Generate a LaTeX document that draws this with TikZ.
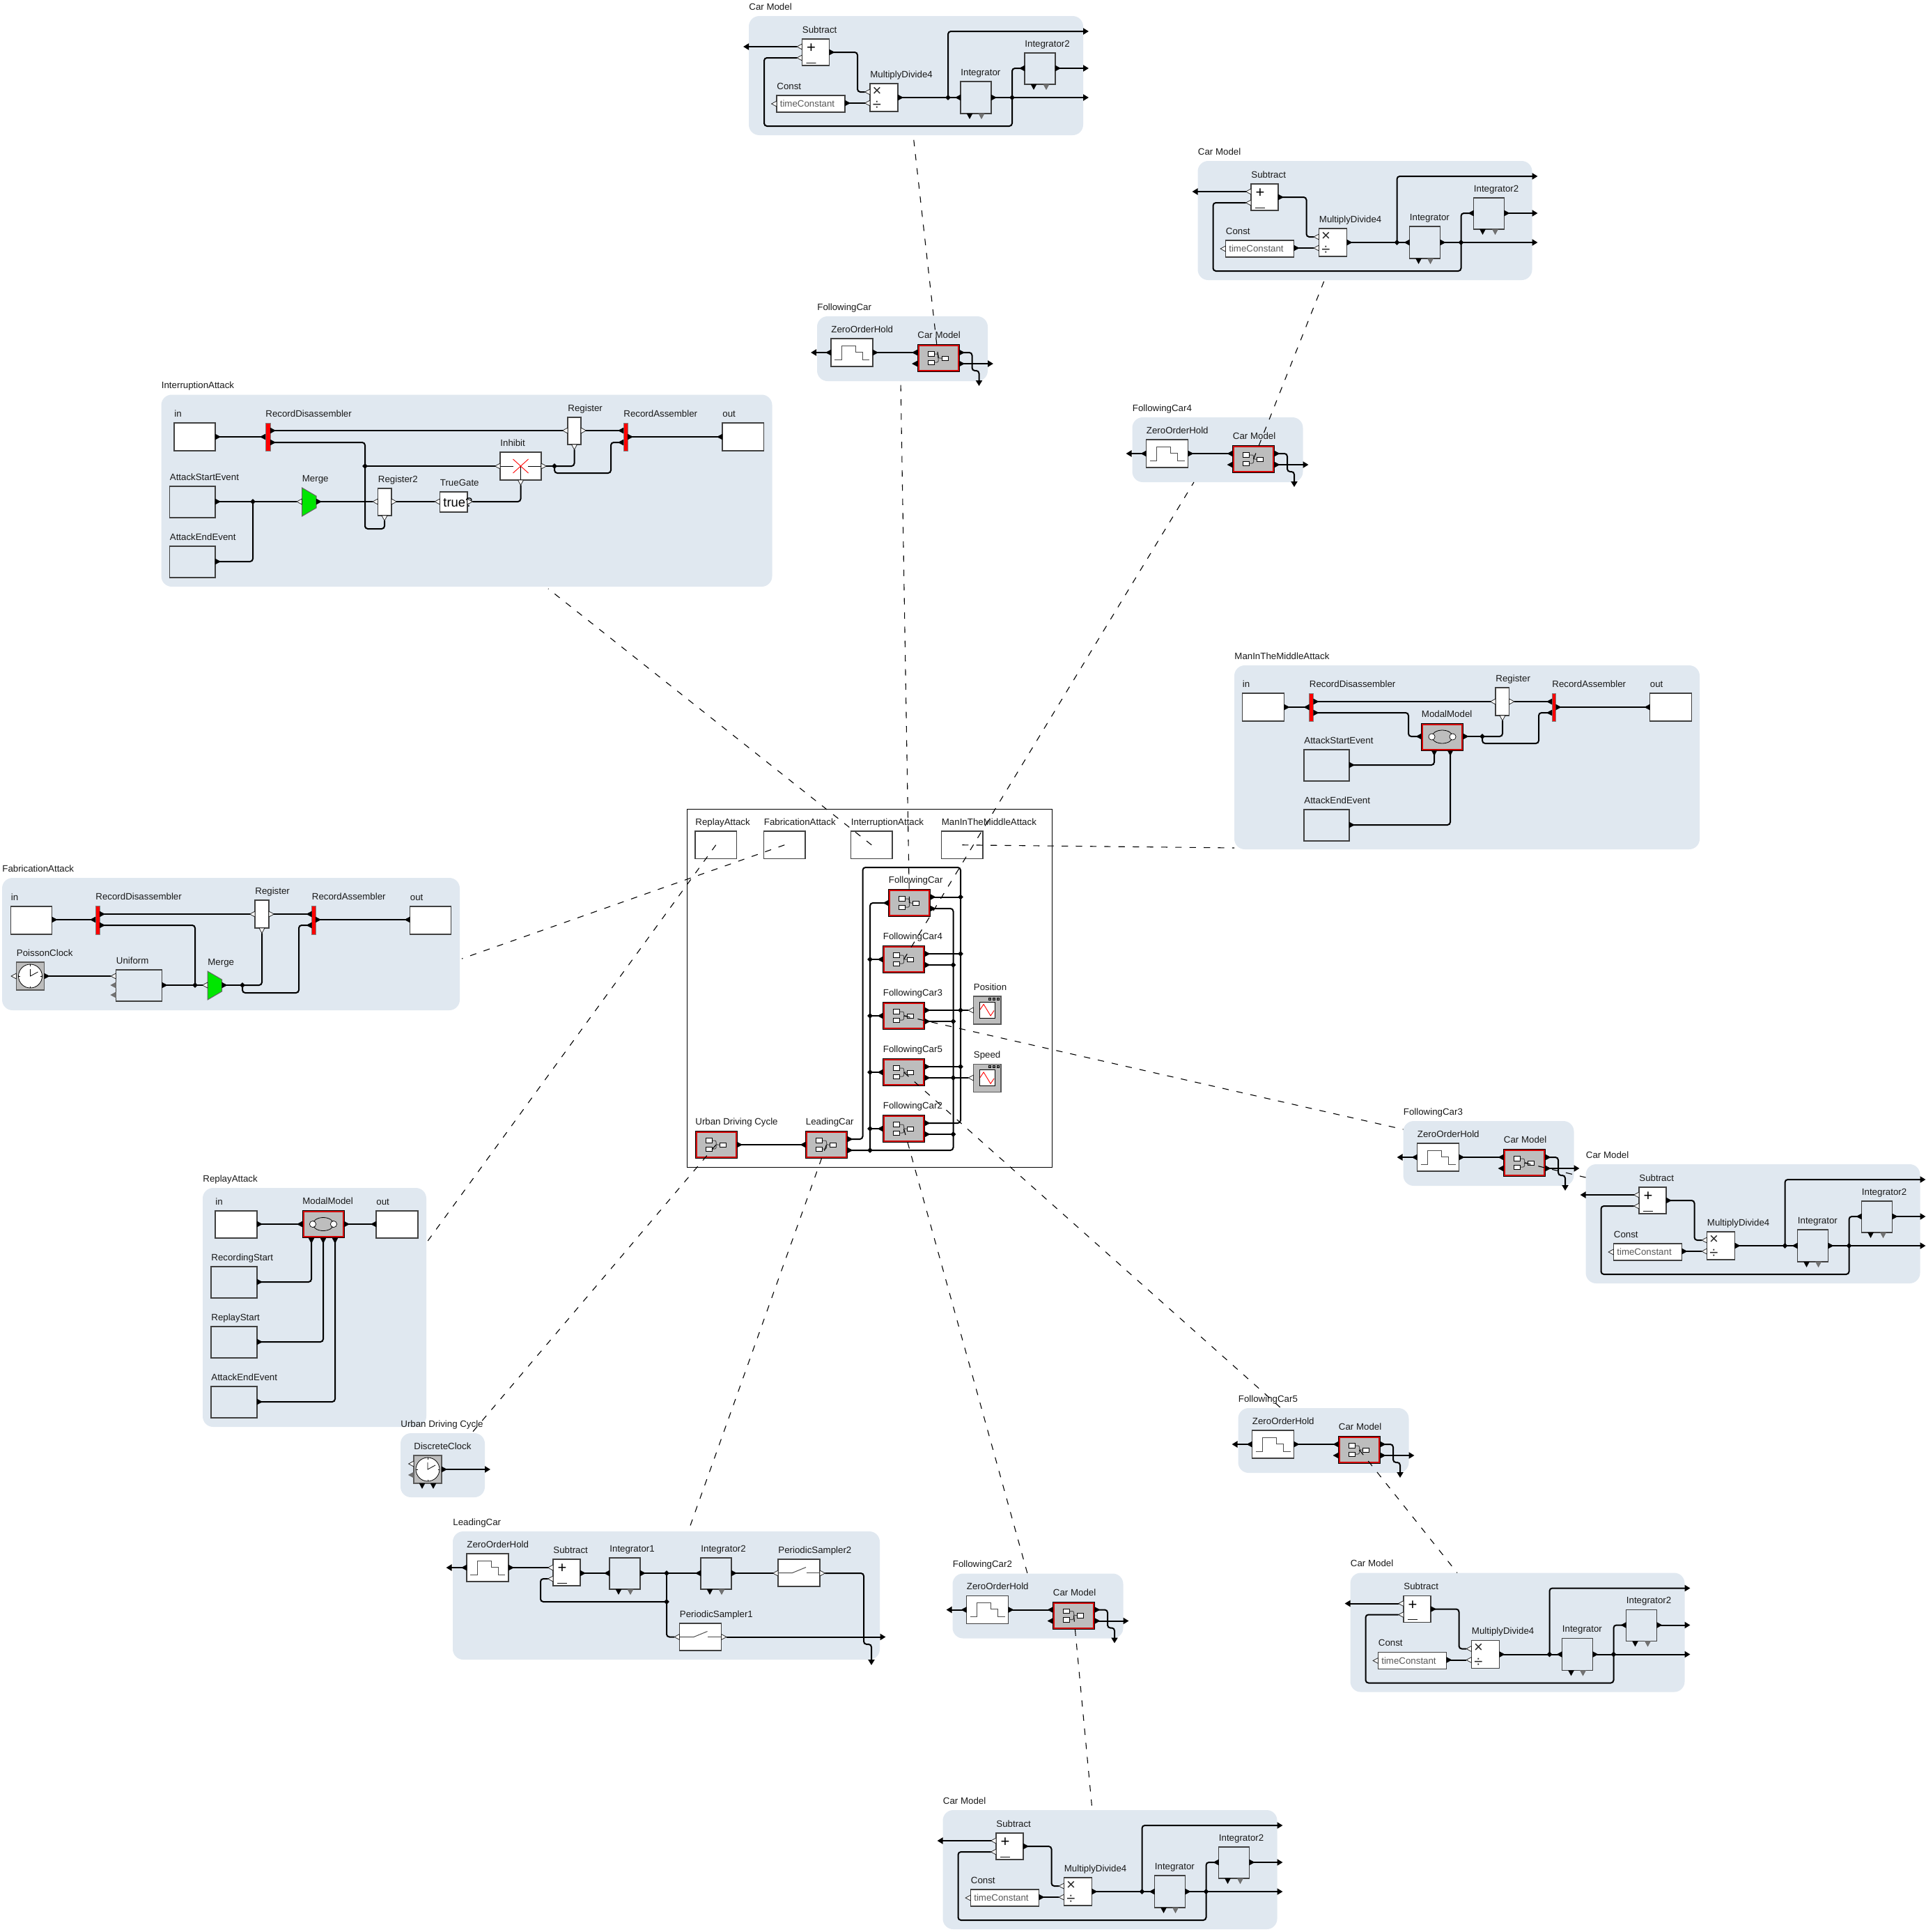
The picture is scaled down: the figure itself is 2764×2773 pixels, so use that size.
\documentclass[tikz,border=0pt]{standalone}
\usepackage{fontspec}
\setmainfont{Liberation Sans}
\usetikzlibrary{arrows.meta,shapes.geometric}
\definecolor{panefill}{RGB}{224,232,240}
\definecolor{compfill}{RGB}{189,189,189}
\definecolor{compred}{RGB}{214,0,0}
\definecolor{mergegreen}{RGB}{0,230,0}
\tikzset{
	lbl/.style={font=\fontsize{6.65}{8}\selectfont, inner sep=0pt, text=black!90},
	pane/.style={fill=panefill, rounded corners=7.5pt},
	bwhite/.style={draw=black!75, fill=white, line width=0.55pt},
	bplain/.style={draw=black!75, line width=0.55pt},
	bgray/.style={draw=black!65, fill=compfill, line width=0.55pt},
	bcomp/.style={draw=black, fill=compfill, line width=0.5pt},
	bbar/.style={draw=black!50, fill=red, line width=0.5pt},
	wire/.style={line width=1pt, rounded corners=2pt},
	tipped/.style={-{Triangle[length=4pt,width=4.5pt]}},
	thinline/.style={line width=0.45pt},
	glyph/.style={draw=black!70, line width=0.5pt},
	pblack/.style={draw=black, fill=black, line width=0.2pt, /utils/exec={\def\preach{1.8pt}}},
	popen/.style={draw=black!85, fill=white, line width=0.4pt, /utils/exec={\def\preach{3.7pt}}},
	pgray/.style={draw=black!60, fill=black!55, line width=0.3pt, /utils/exec={\def\preach{3.7pt}}},
	junc/.style={diamond, fill=black, inner sep=0pt, minimum size=4.1pt},
	link/.style={line width=0.55pt, dash pattern=on 4.6pt off 5.6pt},
}
% block with its caption
\def\blk[#1](#2)(#3)(#4,#5)#6{
	\node[#1, anchor=north west, inner sep=0pt, outer sep=0pt, minimum width=#4*0.5pt, minimum height=#5*0.5pt] (#2) at (#3) {};
	\node[lbl, anchor=base west, yshift=4.3pt] (#2-t) at (#2.north west) {#6};
}
\def\port[#1](#2)(#3)#4{\draw[#1, shift={(#3)}, rotate=#4] (0,-2pt) -- (3.7pt,0) -- (0,2pt) -- cycle (\preach,0) coordinate (#2);}
\def\compo(#1)(#2)#3{
	\blk[bcomp](#1)(#2)(60,39){#3}
	\begin{scope}[shift={(#2)}]
		\draw[compred, line width=1pt] (1.5,1.5) rectangle (58.5,37.5);
		\draw[draw=black!70, line width=0.5pt, rounded corners=1pt] (24,13.5) -| (30,19.5) -- (35,19.5);
		\draw[draw=black!70, line width=0.5pt, rounded corners=1pt] (24,25.5) -| (30,19.5);
		\draw[draw=black, fill=white, line width=0.45pt] (15,10) rectangle (24,16.5);
		\draw[draw=black, fill=white, line width=0.45pt] (15,22.5) rectangle (24,29);
		\draw[draw=black, fill=white, line width=0.45pt] (35,16.5) rectangle (44,23);
	\end{scope}
}
\def\modal(#1)(#2)#3{
	\blk[bcomp](#1)(#2)(60,39){#3}
	\begin{scope}[shift={(#2)}]
		\draw[compred, line width=1pt] (1.5,1.5) rectangle (58.5,37.5);
		\draw[black, line width=0.4pt] (30,19.5) ellipse (15 and 9.5);
		\draw[black, fill=white, line width=0.35pt] (15,19.5) circle (4.6);
		\draw[black, fill=white, line width=0.35pt] (45,19.5) circle (4.6);
	\end{scope}
}
\def\clock(#1)(#2)#3{
	\blk[bgray](#1)(#2)(40,40){#3}
	\begin{scope}[shift={(#2)}]
		\draw[black, fill=white, line width=0.4pt] (20,20) circle (17);
		\draw[black, line width=0.4pt] (20,10) -- (20,20) -- (31,14);
		\draw[black, line width=0.4pt] (20,3) -- (20,5.5);
		\draw[black, line width=0.4pt] (20,34.5) -- (20,37);
		\draw[black, line width=0.4pt] (3,20) -- (5.5,20);
		\draw[black, line width=0.4pt] (34.5,20) -- (37,20);
	\end{scope}
}
\def\plotter(#1)(#2)#3{
	\blk[bgray](#1)(#2)(39.5,40){#3}
	\begin{scope}[shift={(#2)}]
		\draw[black, fill=white, line width=0.5pt] (8.5,8) rectangle (31,31);
		\draw[red, line width=0.45pt] (9.6,19) -- (14.6,11.4) -- (24.6,27.9) -- (29.6,20.4);
		\draw[black, fill=black!50, line width=0.35pt] (22,2) rectangle (25,5);
		\draw[black, fill=black!50, line width=0.35pt] (28,2) rectangle (31,5);
		\draw[black, fill=black!50, line width=0.35pt] (34,2) rectangle (37,5);
	\end{scope}
}
\def\hold(#1)(#2)#3{
	\blk[bwhite](#1)(#2)(60,40){#3}
	\begin{scope}[shift={(#2)}]
		\draw[glyph] (5,30) -- (15,30) -- (15,10) -- (35,10) -- (35,19) -- (45,19) -- (45,30) -- (55,30);
	\end{scope}
}
\def\sampler(#1)(#2)#3{
	\blk[bwhite](#1)(#2)(60,39){#3}
	\begin{scope}[shift={(#2)}]
		\draw[glyph] (0,19.5) -- (20.5,19.5) -- (40,11.5);
		\draw[glyph] (40.5,19.5) -- (60,19.5);
	\end{scope}
}
\def\subtr(#1)(#2)#3{
	\blk[bwhite](#1)(#2)(39,38){#3}
	\begin{scope}[shift={(#2)}]
		\node[font=\fontsize{11}{12}\selectfont, inner sep=0pt] (#1-plus) at (13,13.5) {+};
		\node[font=\fontsize{7}{8}\selectfont, inner sep=0pt] (#1-minus) at (13,36) {—};
	\end{scope}
}
\def\merger(#1)(#2)#3{
	\begin{scope}[shift={(#2)}]
		\draw[draw=black!60, fill=mergegreen, line width=0.5pt] (0,0) -- (20.5,12) -- (20.5,29) -- (0,41) -- cycle;
		\coordinate (#1) at (0,0);
	\end{scope}
	\node[lbl, anchor=base west, yshift=4.3pt] (#1-t) at (#1) {#3};
}
% one Car Model panel, top left corner at #2
\def\carmodel#1#2{
	\begin{scope}[shift={(#2)}]
		\blk[pane](#1)(0,0)(480,171){Car Model}
		\subtr(#1sub)(76.5,33){Subtract}
		\blk[bwhite](#1con)(40,114)(98,24){Const}
		\node[lbl, text=black!65] (#1con-v) at (84,126) {timeConstant};
		\blk[bwhite](#1mul)(174,97)(40,40){MultiplyDivide4}
		\node[font=\fontsize{11}{12}\selectfont, inner sep=0pt, text=black!85] (#1mul-x) at (184,108) {×};
		\node[font=\fontsize{11}{12}\selectfont, inner sep=0pt, text=black!85] (#1mul-d) at (184,128.5) {÷};
		\blk[bplain](#1int)(304,94)(44,46){Integrator}
		\blk[bplain](#1itw)(396,53)(44,45){Integrator2}
		\port[popen](#1sub-i1)(76.5,44){180}
		\port[popen](#1sub-i2)(76.5,60){180}
		\port[pblack](#1sub-o)(115.5,52){0}
		\port[popen](#1con-i)(40,126){180}
		\port[pblack](#1con-o)(138,125){0}
		\port[popen](#1mul-i1)(174,109){180}
		\port[popen](#1mul-i2)(174,125){180}
		\port[pblack](#1mul-o)(214,117){0}
		\port[pblack](#1int-i)(304,117){180}
		\port[pblack](#1int-o)(348,117){0}
		\port[pblack](#1int-a)(317,140){-90}
		\port[pgray](#1int-b)(334,140){-90}
		\port[pblack](#1itw-i)(396,75){180}
		\port[pblack](#1itw-o)(440,75){0}
		\port[pblack](#1itw-a)(409,98){-90}
		\port[pgray](#1itw-b)(427,98){-90}
		\node[junc] (#1j1) at (286,117) {};
		\node[junc] (#1j2) at (378,117) {};
		\coordinate (#1e0) at (-8,44);
		\coordinate (#1e1) at (488,22);
		\coordinate (#1e2) at (488,75);
		\coordinate (#1e3) at (488,117);
		\coordinate (#1b1) at (156,109);
		\coordinate (#1b2) at (22,158);
		\draw[wire, tipped] (#1sub-i1) -- (#1e0);
		\draw[wire] (#1sub-o) -| (#1b1) -- (#1mul-i1);
		\draw[wire] (#1con-o) -- (#1mul-i2);
		\draw[wire] (#1mul-o) -- (#1j1.center);
		\draw[wire] (#1j1.center) -- (#1int-i);
		\draw[wire, tipped] (#1j1.center) |- (#1e1);
		\draw[wire] (#1int-o) -- (#1j2.center);
		\draw[wire, tipped] (#1j2.center) -- (#1e3);
		\draw[wire] (#1j2.center) |- (#1itw-i);
		\draw[wire, tipped] (#1itw-o) -- (#1e2);
		\draw[wire] (#1j2.center) |- (#1b2) |- (#1sub-i2);
	\end{scope}
}
% one following car panel
\def\followpane#1#2#3{
	\begin{scope}[shift={(#2)}]
		\blk[pane](#1)(0,0)(245,93){#3}
		\hold(#1zoh)(20,32){ZeroOrderHold}
		\compo(#1comp)(144,40.5){Car Model}
		\port[pblack](#1zoh-i)(20,52){180}
		\port[pblack](#1zoh-o)(80,52){0}
		\port[pblack](#1comp-i1)(144,52){180}
		\port[pblack](#1comp-i2)(144,68){180}
		\port[pblack](#1comp-o1)(204,52){0}
		\port[pblack](#1comp-o2)(204,68){0}
		\coordinate (#1e0) at (-9,52);
		\coordinate (#1e1) at (253,68);
		\coordinate (#1e2) at (232.5,100);
		\coordinate (#1b1) at (222.5,78);
		\draw[wire, tipped] (#1zoh-i) -- (#1e0);
		\draw[wire] (#1zoh-o) -- (#1comp-i1);
		\draw[wire, tipped] (#1comp-o2) -- (#1e1);
		\draw[wire, tipped] (#1comp-o1) -| (#1b1) -| (#1e2);
	\end{scope}
}
\begin{document}
\begin{tikzpicture}[x=0.5pt, y=-0.5pt]
	\useasboundingbox (0,0) rectangle (2764,2773);
	%%%%% PANELS %%%%%
	\carmodel{cara}{1075,23}
	\carmodel{carb}{1719.5,231}
	\carmodel{carc}{2276.5,1671}
	\carmodel{card}{1938.5,2257.5}
	\carmodel{care}{1353.5,2598}
	\followpane{fola}{1173,454}{FollowingCar}
	\followpane{folb}{1625.5,599}{FollowingCar4}
	\followpane{folc}{2014.5,1609}{FollowingCar3}
	\followpane{fold}{1777.5,2021}{FollowingCar5}
	\followpane{fole}{1367.5,2258.5}{FollowingCar2}

	%%%%% INTERRUPTION %%%%%
	\blk[pane](int)(231.5,566.5)(877,275.5){InterruptionAttack}
	\blk[bwhite](int-in)(250,607)(59,40){in}
	\blk[bbar](int-rd)(381,607)(7,40){RecordDisassembler}
	\blk[bwhite](int-reg)(815,599)(19,39){Register}
	\blk[bbar](int-ra)(895,607)(6,40){RecordAssembler}
	\blk[bwhite](int-out)(1037,607)(59.5,40){out}
	\blk[bwhite](int-inh)(718,649)(59,40){Inhibit}
	\blk[bplain](int-start)(243.5,698)(65.5,45){AttackStartEvent}
	\blk[bplain](int-end)(243.5,784)(65.5,45){AttackEndEvent}
	\merger(int-mg)(433.5,700){Merge}
	\blk[bwhite](int-reb)(542.5,701)(19.5,39){Register2}
	\blk[bwhite](int-tg)(631.5,706)(39.5,29){TrueGate}
	\node[font=\fontsize{9.2}{10}\selectfont, inner sep=0pt, anchor=west] (int-tgv) at (636,721) {true?};
	\draw[thinline] (718,669) -- (737,669) (758,669) -- (777,669) (747.5,669) -- (747.5,689);
	\draw[red, thinline] (736.5,659) -- (758.5,679) (736.5,679) -- (758.5,659);
	\port[pblack](int-in-o)(309,627){0}
	\port[pblack](int-rd-i)(381,627){180}
	\port[pblack](int-rd-a)(388,618){0}
	\port[pblack](int-rd-b)(388,635){0}
	\port[popen](int-reg-i)(815,618){180}
	\port[popen](int-reg-o)(834,618){0}
	\port[popen](int-reg-c)(824.5,638){-90}
	\port[pblack](int-ra-a)(895,618){180}
	\port[pblack](int-ra-b)(895,635){180}
	\port[pblack](int-ra-o)(901,627){0}
	\port[pblack](int-out-i)(1037,627){180}
	\port[popen](int-inh-i)(718,669){180}
	\port[popen](int-inh-o)(777,669){0}
	\port[popen](int-inh-c)(747.5,689){-90}
	\port[pblack](int-start-o)(309,720){0}
	\port[pblack](int-end-o)(309,806){0}
	\port[popen](int-mg-i)(433.5,720){180}
	\port[pblack](int-mg-o)(454,720){0}
	\port[popen](int-reb-i)(542.5,720){180}
	\port[popen](int-reb-o)(562,720){0}
	\port[popen](int-reb-c)(552,740){-90}
	\port[popen](int-tg-i)(631.5,720){180}
	\port[popen](int-tg-o)(671,720){0}
	\node[junc] (int-j1) at (524,669) {};
	\node[junc] (int-j2) at (796,669) {};
	\node[junc] (int-j3) at (363,720) {};
	\coordinate (int-b1) at (877,679);
	\coordinate (int-b2) at (524,759);
	\draw[wire] (int-in-o) -- (int-rd-i);
	\draw[wire] (int-rd-a) -- (int-reg-i);
	\draw[wire] (int-reg-o) -- (int-ra-a);
	\draw[wire] (int-ra-o) -- (int-out-i);
	\draw[wire] (int-rd-b) -| (int-j1.center);
	\draw[wire] (int-j1.center) -- (int-inh-i);
	\draw[wire] (int-j1.center) |- (int-b2) -| (int-reb-c);
	\draw[wire] (int-inh-o) -- (int-j2.center);
	\draw[wire] (int-j2.center) -| (int-reg-c);
	\draw[wire] (int-j2.center) |- (int-b1) |- (int-ra-b);
	\draw[wire] (int-start-o) -- (int-j3.center);
	\draw[wire] (int-end-o) -| (int-j3.center);
	\draw[wire] (int-j3.center) -- (int-mg-i);
	\draw[wire] (int-mg-o) -- (int-reb-i);
	\draw[wire] (int-reb-o) -- (int-tg-i);
	\draw[wire] (int-tg-o) -| (int-inh-c);

	%%%%% MAN IN THE MIDDLE %%%%%
	\blk[pane](mit)(1772,955)(668,264){ManInTheMiddleAttack}
	\blk[bwhite](mit-in)(1783.5,995)(60,40){in}
	\blk[bbar](mit-rd)(1879.5,995)(6,40){RecordDisassembler}
	\blk[bwhite](mit-reg)(2147,987)(19.5,40){Register}
	\blk[bbar](mit-ra)(2228,995)(5.5,40){RecordAssembler}
	\blk[bwhite](mit-out)(2368.5,995)(60,40){out}
	\modal(mit-mm)(2040.5,1038){ModalModel}
	\blk[bplain](mit-start)(1872,1076)(65,45){AttackStartEvent}
	\blk[bplain](mit-end)(1872,1162)(65,45){AttackEndEvent}
	\port[pblack](mit-in-o)(1843.5,1015){0}
	\port[pblack](mit-rd-i)(1879.5,1015){180}
	\port[pblack](mit-rd-a)(1885.5,1007){0}
	\port[pblack](mit-rd-b)(1885.5,1023){0}
	\port[popen](mit-reg-i)(2147,1007){180}
	\port[popen](mit-reg-o)(2166.5,1007){0}
	\port[popen](mit-reg-c)(2157,1027){-90}
	\port[pblack](mit-ra-a)(2228,1007){180}
	\port[pblack](mit-ra-b)(2228,1023){180}
	\port[pblack](mit-ra-o)(2233.5,1015){0}
	\port[pblack](mit-out-i)(2368.5,1015){180}
	\port[pblack](mit-mm-i)(2040.5,1057){180}
	\port[pblack](mit-mm-o)(2100.5,1057){0}
	\port[pblack](mit-mm-a)(2059,1077){-90}
	\port[pblack](mit-mm-b)(2082,1077){-90}
	\port[pblack](mit-start-o)(1937,1098){0}
	\port[pblack](mit-end-o)(1937,1184){0}
	\node[junc] (mit-j1) at (2128,1057) {};
	\coordinate (mit-b1) at (2022,1023);
	\coordinate (mit-b2) at (2209,1067);
	\draw[wire] (mit-in-o) -- (mit-rd-i);
	\draw[wire] (mit-rd-a) -- (mit-reg-i);
	\draw[wire] (mit-reg-o) -- (mit-ra-a);
	\draw[wire] (mit-ra-o) -- (mit-out-i);
	\draw[wire] (mit-rd-b) -- (mit-b1) |- (mit-mm-i);
	\draw[wire] (mit-mm-o) -- (mit-j1.center);
	\draw[wire] (mit-j1.center) -| (mit-reg-c);
	\draw[wire] (mit-j1.center) |- (mit-b2) |- (mit-ra-b);
	\draw[wire] (mit-start-o) -| (mit-mm-a);
	\draw[wire] (mit-end-o) -| (mit-mm-b);

	%%%%% FABRICATION %%%%%
	\blk[pane](fab)(3,1260)(657,190){FabricationAttack}
	\blk[bwhite](fab-in)(15.5,1301)(59,40){in}
	\blk[bbar](fab-rd)(137,1300)(6,41){RecordDisassembler}
	\blk[bwhite](fab-reg)(366,1292)(20,40){Register}
	\blk[bbar](fab-ra)(447.5,1300)(5.5,41){RecordAssembler}
	\blk[bwhite](fab-out)(588.5,1301)(59,40){out}
	\clock(fab-clk)(23.5,1381){PoissonClock}
	\blk[bplain](fab-uni)(166.5,1392)(66,45){Uniform}
	\merger(fab-mg)(298,1394){Merge}
	\port[pblack](fab-in-o)(74.5,1320){0}
	\port[pblack](fab-rd-i)(137,1320){180}
	\port[pblack](fab-rd-a)(143,1312){0}
	\port[pblack](fab-rd-b)(143,1328){0}
	\port[popen](fab-reg-i)(366,1312){180}
	\port[popen](fab-reg-o)(386,1312){0}
	\port[popen](fab-reg-c)(376,1332){-90}
	\port[pblack](fab-ra-a)(447.5,1312){180}
	\port[pblack](fab-ra-b)(447.5,1328){180}
	\port[pblack](fab-ra-o)(453,1320){0}
	\port[pblack](fab-out-i)(588.5,1320){180}
	\port[popen](fab-clk-i)(23.5,1401){180}
	\port[pblack](fab-clk-o)(63.5,1401){0}
	\port[popen](fab-uni-i)(166.5,1401){180}
	\port[pgray](fab-uni-a)(166.5,1414){180}
	\port[pgray](fab-uni-b)(166.5,1428){180}
	\port[pblack](fab-uni-o)(232.5,1414){0}
	\port[popen](fab-mg-i)(298,1414){180}
	\port[pblack](fab-mg-o)(318.5,1414){0}
	\node[junc] (fab-j1) at (280,1414) {};
	\node[junc] (fab-j2) at (348,1414) {};
	\coordinate (fab-b1) at (429,1425);
	\draw[wire] (fab-in-o) -- (fab-rd-i);
	\draw[wire] (fab-rd-a) -- (fab-reg-i);
	\draw[wire] (fab-reg-o) -- (fab-ra-a);
	\draw[wire] (fab-ra-o) -- (fab-out-i);
	\draw[wire] (fab-rd-b) -| (fab-j1.center);
	\draw[wire] (fab-clk-o) -- (fab-uni-i);
	\draw[wire] (fab-uni-o) -- (fab-j1.center);
	\draw[wire] (fab-j1.center) -- (fab-mg-i);
	\draw[wire] (fab-mg-o) -- (fab-j2.center);
	\draw[wire] (fab-j2.center) -| (fab-reg-c);
	\draw[wire] (fab-j2.center) |- (fab-b1) |- (fab-ra-b);

	%%%%% REPLAY %%%%%
	\blk[pane](rep)(291,1705)(321,343){ReplayAttack}
	\blk[bwhite](rep-in)(309,1738)(60,39){in}
	\modal(rep-mm)(434,1737.5){ModalModel}
	\blk[bwhite](rep-out)(540,1738)(60,39){out}
	\blk[bplain](rep-rec)(303,1818)(66,45){RecordingStart}
	\blk[bplain](rep-rst)(303,1904)(66,45){ReplayStart}
	\blk[bplain](rep-end)(303,1990)(66,45){AttackEndEvent}
	\port[pblack](rep-in-o)(369,1757){0}
	\port[pblack](rep-mm-i)(434,1757){180}
	\port[pblack](rep-mm-o)(494,1757){0}
	\port[pblack](rep-out-i)(540,1757){180}
	\port[pblack](rep-mm-a)(447,1777){-90}
	\port[pblack](rep-mm-b)(464,1777){-90}
	\port[pblack](rep-mm-c)(481,1777){-90}
	\port[pblack](rep-rec-o)(369,1840){0}
	\port[pblack](rep-rst-o)(369,1926){0}
	\port[pblack](rep-end-o)(369,2012){0}
	\draw[wire] (rep-in-o) -- (rep-mm-i);
	\draw[wire] (rep-mm-o) -- (rep-out-i);
	\draw[wire] (rep-rec-o) -| (rep-mm-a);
	\draw[wire] (rep-rst-o) -| (rep-mm-b);
	\draw[wire] (rep-end-o) -| (rep-mm-c);

	%%%%% URBAN DRIVING CYCLE %%%%%
	\blk[pane](urb)(575,2057)(121,92){Urban Driving Cycle}
	\clock(urb-clk)(594,2089){DiscreteClock}
	\port[popen](urb-clk-i)(594,2101){180}
	\port[pgray](urb-clk-j)(594,2117){180}
	\port[pblack](urb-clk-o)(634,2109){0}
	\port[pblack](urb-clk-a)(606,2129){-90}
	\port[pblack](urb-clk-b)(622,2129){-90}
	\coordinate (urb-e) at (704,2109);
	\draw[wire, tipped] (urb-clk-o) -- (urb-e);

	%%%%% LEADING CAR %%%%%
	\blk[pane](lea)(650,2198)(613,184){LeadingCar}
	\hold(lea-zoh)(670,2230){ZeroOrderHold}
	\subtr(lea-sub)(794,2238){Subtract}
	\blk[bplain](lea-ia)(875,2236)(44,45){Integrator1}
	\blk[bplain](lea-ib)(1006,2236)(44,45){Integrator2}
	\sampler(lea-pb)(1117,2238){PeriodicSampler2}
	\sampler(lea-pa)(975.5,2330){PeriodicSampler1}
	\port[pblack](lea-zoh-i)(670,2250){180}
	\port[pblack](lea-zoh-o)(730,2250){0}
	\port[popen](lea-sub-a)(794,2250){180}
	\port[popen](lea-sub-b)(794,2266){180}
	\port[pblack](lea-sub-o)(833,2258){0}
	\port[pblack](lea-ia-i)(875,2258){180}
	\port[pblack](lea-ia-o)(919,2258){0}
	\port[pblack](lea-ia-a)(888,2281){-90}
	\port[pgray](lea-ia-b)(905,2281){-90}
	\port[pblack](lea-ib-i)(1006,2258){180}
	\port[pblack](lea-ib-o)(1050,2258){0}
	\port[pblack](lea-ib-a)(1019,2281){-90}
	\port[pgray](lea-ib-b)(1036,2281){-90}
	\port[popen](lea-pb-i)(1117,2258){180}
	\port[popen](lea-pb-o)(1177,2258){0}
	\port[popen](lea-pa-i)(975.5,2349.5){180}
	\port[popen](lea-pa-o)(1035.5,2349.5){0}
	\node[junc] (lea-j1) at (957,2258) {};
	\node[junc] (lea-j2) at (957,2299) {};
	\coordinate (lea-e0) at (640.5,2250);
	\coordinate (lea-e1) at (1271.5,2349.5);
	\coordinate (lea-e2) at (1251,2390);
	\coordinate (lea-b1) at (776,2299);
	\coordinate (lea-b2) at (1240,2360);
	\draw[wire, tipped] (lea-zoh-i) -- (lea-e0);
	\draw[wire] (lea-zoh-o) -- (lea-sub-a);
	\draw[wire] (lea-sub-o) -- (lea-ia-i);
	\draw[wire] (lea-ia-o) -- (lea-j1.center);
	\draw[wire] (lea-j1.center) -- (lea-ib-i);
	\draw[wire] (lea-ib-o) -- (lea-pb-i);
	\draw[wire] (lea-j1.center) -- (lea-j2.center);
	\draw[wire] (lea-j2.center) -- (lea-b1) |- (lea-sub-b);
	\draw[wire] (lea-j2.center) |- (lea-pa-i);
	\draw[wire, tipped] (lea-pa-o) -- (lea-e1);
	\draw[wire, tipped] (lea-pb-o) -| (lea-b2) -| (lea-e2);

	%%%%% TOP LEVEL %%%%%
	\blk[draw=black, line width=0.6pt, fill=white](top)(986.5,1161.5)(524,514){}
	\blk[bwhite](top-rep)(998,1193)(59.5,39.5){ReplayAttack}
	\blk[bwhite](top-fab)(1096.5,1193)(59.5,39.5){FabricationAttack}
	\blk[bwhite](top-int)(1221.5,1193)(59.5,39.5){InterruptionAttack}
	\blk[bwhite](top-mit)(1351.5,1193)(59.5,39.5){ManInTheMiddleAttack}
	\compo(top-fa)(1275.5,1276.5){FollowingCar}
	\compo(top-fb)(1267.5,1357.5){FollowingCar4}
	\compo(top-fc)(1267.5,1438.5){FollowingCar3}
	\compo(top-fd)(1267.5,1519.5){FollowingCar5}
	\compo(top-fe)(1267.5,1600.5){FollowingCar2}
	\compo(top-urb)(998,1623.5){Urban Driving Cycle}
	\compo(top-lea)(1156.5,1623.5){LeadingCar}
	\plotter(top-pos)(1397.5,1430){Position}
	\plotter(top-spd)(1397.5,1527.5){Speed}
	\port[pblack](top-urb-o)(1058,1643){0}
	\port[pblack](top-lea-i)(1156.5,1643){180}
	\port[pblack](top-lea-a)(1216.5,1635){0}
	\port[pblack](top-lea-b)(1216.5,1651){0}
	\port[pblack](top-fa-i)(1275.5,1296){180}
	\port[pblack](top-fa-a)(1335.5,1287.5){0}
	\port[pblack](top-fa-b)(1335.5,1304){0}
	\port[pblack](top-fb-i)(1267.5,1377){180}
	\port[pblack](top-fb-a)(1327.5,1369){0}
	\port[pblack](top-fb-b)(1327.5,1385){0}
	\port[pblack](top-fc-i)(1267.5,1458){180}
	\port[pblack](top-fc-a)(1327.5,1450){0}
	\port[pblack](top-fc-b)(1327.5,1466){0}
	\port[pblack](top-fd-i)(1267.5,1539){180}
	\port[pblack](top-fd-a)(1327.5,1531){0}
	\port[pblack](top-fd-b)(1327.5,1547){0}
	\port[pblack](top-fe-i)(1267.5,1620){180}
	\port[pblack](top-fe-a)(1327.5,1612){0}
	\port[pblack](top-fe-b)(1327.5,1628){0}
	\port[popen](top-pos-i)(1397.5,1450){180}
	\port[popen](top-spd-i)(1397.5,1547){180}
	\node[junc] (top-ja) at (1379,1287.5) {};
	\node[junc] (top-jb) at (1379,1369) {};
	\node[junc] (top-jc) at (1379,1450) {};
	\node[junc] (top-jd) at (1379,1531) {};
	\node[junc] (top-ke) at (1368.5,1628) {};
	\node[junc] (top-kb) at (1368.5,1385) {};
	\node[junc] (top-kc) at (1368.5,1466) {};
	\node[junc] (top-kd) at (1368.5,1547) {};
	\node[junc] (top-lb) at (1249,1377) {};
	\node[junc] (top-lc) at (1249,1458) {};
	\node[junc] (top-ld) at (1249,1539) {};
	\node[junc] (top-le) at (1249,1620) {};
	\node[junc] (top-lf) at (1249,1651) {};
	\coordinate (top-b1) at (1238.5,1245);
	\coordinate (top-b2) at (1379,1612);
	\coordinate (top-b3) at (1368.5,1651);
	\draw[wire] (top-urb-o) -- (top-lea-i);
	\draw[wire] (top-lea-a) -| (top-b1) -| (top-b2) -- (top-fe-a);
	\draw[wire] (top-lea-b) -- (top-b3) |- (top-fa-b);
	\draw[wire] (top-lf.center) |- (top-fa-i);
	\draw[wire] (top-fa-a) -- (top-ja.center);
	\draw[wire] (top-fb-a) -- (top-jb.center);
	\draw[wire] (top-fc-a) -- (top-jc.center);
	\draw[wire] (top-jc.center) -- (top-pos-i);
	\draw[wire] (top-fd-a) -- (top-jd.center);
	\draw[wire] (top-fb-b) -- (top-kb.center);
	\draw[wire] (top-fc-b) -- (top-kc.center);
	\draw[wire] (top-fd-b) -- (top-kd.center);
	\draw[wire] (top-kd.center) -- (top-spd-i);
	\draw[wire] (top-fe-b) -- (top-ke.center);
	\draw[wire] (top-lb.center) -- (top-fb-i);
	\draw[wire] (top-lc.center) -- (top-fc-i);
	\draw[wire] (top-ld.center) -- (top-fd-i);
	\draw[wire] (top-le.center) -- (top-fe-i);

	%%%%% DASHED LINKS %%%%%
	\coordinate (x-rep) at (612,1784);
	\coordinate (x-fab) at (663,1376);
	\coordinate (x-int) at (787,845);
	\coordinate (x-mit) at (1772,1217);
	\coordinate (x-fola) at (1293,547);
	\coordinate (x-folb) at (1714,692);
	\coordinate (x-folc) at (2014.5,1621);
	\coordinate (x-fold) at (1839,2021);
	\coordinate (x-fole) at (1475,2258.5);
	\coordinate (x-urb) at (677,2057);
	\coordinate (x-lea) at (988,2198);
	\coordinate (x-cara) at (1311,194);
	\coordinate (x-carb) at (1901,403);
	\coordinate (x-carc) at (2276.5,1690);
	\coordinate (x-card) at (2092,2257.5);
	\coordinate (x-care) at (1568,2598);
	\draw[link] (top-rep.center) -- (x-rep);
	\draw[link] (top-fab.center) -- (x-fab);
	\draw[link] (top-int.center) -- (x-int);
	\draw[link] (top-mit.center) -- (x-mit);
	\draw[link] (top-fa.center) -- (x-fola);
	\draw[link] (top-fb.center) -- (x-folb);
	\draw[link] (top-fc.center) -- (x-folc);
	\draw[link] (top-fd.center) -- (x-fold);
	\draw[link] (top-fe.center) -- (x-fole);
	\draw[link] (top-urb.center) -- (x-urb);
	\draw[link] (top-lea.center) -- (x-lea);
	\draw[link] (folacomp.center) -- (x-cara);
	\draw[link] (folbcomp.center) -- (x-carb);
	\draw[link] (folccomp.center) -- (x-carc);
	\draw[link] (foldcomp.center) -- (x-card);
	\draw[link] (folecomp.center) -- (x-care);
\end{tikzpicture}
\end{document}
